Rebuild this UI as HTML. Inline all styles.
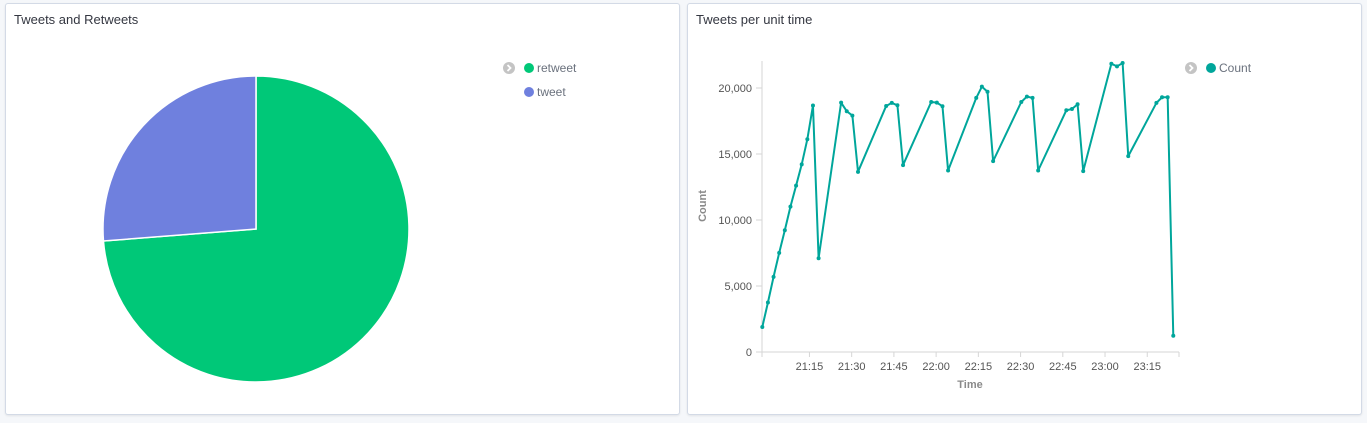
<!DOCTYPE html>
<html><head><meta charset="utf-8">
<style>
body{margin:0;width:1367px;height:423px;background:#f5f7fa;font-family:"Liberation Sans",sans-serif;overflow:hidden;position:relative}
.panel{position:absolute;background:#fff;border:1px solid #d3dae6;border-radius:3px;box-shadow:0 1px 2px rgba(0,0,0,0.08)}
.title{position:absolute;left:8px;top:8px;font-size:13px;color:#343741}
svg{position:absolute;left:0;top:0}
</style></head><body>
<div class="panel" style="left:5px;top:3px;width:673px;height:410px">
<div class="title">Tweets and Retweets</div>
</div>
<div class="panel" style="left:687px;top:3px;width:673px;height:410px">
<div class="title">Tweets per unit time</div>
</div>
<svg id="s" width="1367" height="423"></svg>
<script>
const pieLabels=["retweet","tweet"];
const pieValues=[73.75,26.25];
const pieColors=["#00c878","#6f80de"];
const times=[-1.75,0.25,2.25,4.25,6.25,8.25,10.25,12.25,14.25,16.25,18.25,26.25,28.25,30.25,32.25,42.25,44.25,46.25,48.25,58.25,60.25,62.25,64.25,74.25,76.25,78.25,80.25,90.25,92.25,94.25,96.25,106.25,108.25,110.25,112.25,122.25,124.25,126.25,128.25,138.25,140.25,142.25,144.25];
const counts=[1890,3750,5690,7510,9220,11010,12600,14210,16120,18670,7100,18890,18240,17910,13650,18640,18870,18690,14160,18940,18890,18620,13750,19250,20100,19720,14460,18940,19350,19250,13750,18310,18410,18770,13700,21840,21640,21890,14840,18870,19300,19300,1230];
const yTicks=[0,5000,10000,15000,20000];
const yTickLabels=["0","5,000","10,000","15,000","20,000"];
const xTicks=[15,30,45,60,75,90,105,120,135];
const xTickLabels=["21:15","21:30","21:45","22:00","22:15","22:30","22:45","23:00","23:15"];
const NS="http://www.w3.org/2000/svg";
const s=document.getElementById('s');
function el(t,a,p){const e=document.createElementNS(NS,t);for(const k in a)e.setAttribute(k,a[k]);(p||s).appendChild(e);return e;}
// pie
const cx=256,cy=229,r=153;const tot=pieValues.reduce((a,b)=>a+b,0);let ang=0;
pieValues.forEach((v,i)=>{const a0=ang,a1=ang+v/tot*2*Math.PI;ang=a1;
const x0=cx+r*Math.sin(a0),y0=cy-r*Math.cos(a0),x1=cx+r*Math.sin(a1),y1=cy-r*Math.cos(a1);
const p=el('path',{d:`M${cx},${cy}L${x0},${y0}A${r},${r} 0 ${a1-a0>Math.PI?1:0} 1 ${x1},${y1}Z`,fill:pieColors[i],stroke:'#fff','stroke-width':1.5});


});
function legendToggle(x,y,name){const g=el('g',{});
el('circle',{cx:x,cy:y,r:6,fill:'#c4c4c4'},g);el('path',{d:`M${x-1.5},${y-3}L${x+1.5},${y}L${x-1.5},${y+3}`,stroke:'#fff','stroke-width':1.8,fill:'none'},g);}
legendToggle(509,68,'pie-legend-toggle');
pieLabels.forEach((l,i)=>{const g=el('g',{});
el('circle',{cx:529,cy:68+i*24,r:5,fill:pieColors[i]},g);const t=el('text',{x:537,y:72+i*24,'font-size':12,fill:'#6a717d'},g);t.textContent=l;});
// line chart
const X=t=>762.3+(t+1.75)*2.815, Y=v=>352-v*0.0132;
const ax=el('path',{d:'M762,61V352H1179',stroke:'#d6d6d6',fill:'none','stroke-width':1});

yTicks.forEach((v,i)=>{el('line',{x1:756,x2:762,y1:Y(v),y2:Y(v),stroke:'#d6d6d6'});
const t=el('text',{x:752,y:Y(v)+4,'text-anchor':'end','font-size':11,fill:'#545454'});t.textContent=yTickLabels[i];});
el('line',{x1:762,x2:762,y1:352,y2:357,stroke:'#d6d6d6'});el('line',{x1:1179,x2:1179,y1:352,y2:357,stroke:'#d6d6d6'});
xTicks.forEach((v,i)=>{el('line',{x1:X(v),x2:X(v),y1:352,y2:357,stroke:'#d6d6d6'});
const t=el('text',{x:X(v),y:370,'text-anchor':'middle','font-size':11,fill:'#545454'});t.textContent=xTickLabels[i];});
const yt=el('text',{x:706,y:206,'text-anchor':'middle','font-size':11,'font-weight':'bold',fill:'#8a8a8a',transform:'rotate(-90 706 206)'});yt.textContent='Count';
const xt=el('text',{x:970,y:388,'text-anchor':'middle','font-size':11,'font-weight':'bold',fill:'#8a8a8a'});xt.textContent='Time';
const ln=el('path',{d:times.map((t,i)=>(i?'L':'M')+X(t)+','+Y(counts[i])).join(''),stroke:'#00a69b',fill:'none','stroke-width':2,'stroke-linejoin':'round'});

times.forEach((t,i)=>{const c=el('circle',{cx:X(t),cy:Y(counts[i]),r:2,fill:'#00a69b'});});
legendToggle(1191,68,'line-legend-toggle');
const lg=el('g',{});
el('circle',{cx:1211,cy:68,r:5,fill:'#00a69b'},lg);const lt=el('text',{x:1219,y:72,'font-size':12,fill:'#6a717d'},lg);lt.textContent='Count';
</script>
</body></html>
